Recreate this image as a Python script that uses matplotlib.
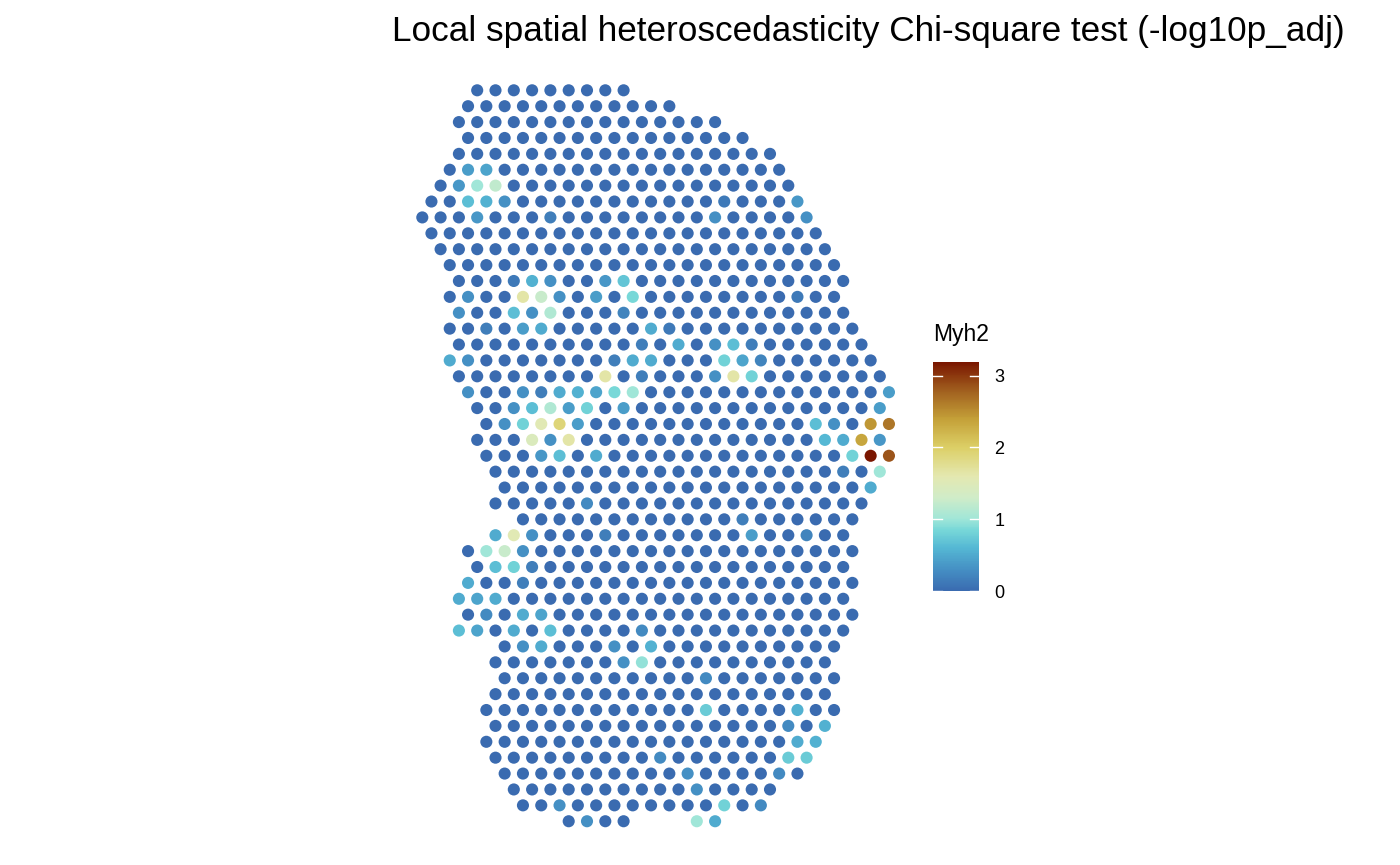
import numpy as np
import matplotlib
matplotlib.use("Agg")
from matplotlib import pyplot as plt
from matplotlib.colors import LinearSegmentedColormap, Normalize

plt.rcParams['font.family'] = ['Liberation Sans', 'DejaVu Sans']

# spot layout (array row, first and last array col of each row; cols step by 2)
row_start = [6, 5, 4, 5, 4, 3, 2, 1, 0, 1, 2, 3, 4, 3, 4, 3, 4, 3, 4, 5, 6, 7, 6, 7,
             8, 9, 8, 11, 8, 5, 6, 5, 4, 5, 4, 9, 8, 9, 8, 7, 8, 7, 8, 9, 10, 11, 16]
row_end = [22, 27, 32, 35, 38, 39, 40, 41, 42, 43, 44, 45, 46, 45, 46, 47, 48, 49, 50, 51,
           50, 51, 50, 51, 50, 49, 48, 47, 46, 47, 46, 47, 46, 47, 46, 45, 44, 45, 44, 45,
           44, 43, 42, 41, 38, 37, 32]
# spots missing inside a row
missing = [(46, 24), (46, 26), (46, 28)]

# spots with -log10p_adj above ~0 (row, col, value), everything else is ~0
hi_row = [5, 5, 6, 6, 6, 7, 7, 7, 7, 7, 8, 8, 8, 8,
          12, 12, 12, 12, 12, 13, 13, 13, 13, 13, 13, 13,
          14, 14, 14, 14, 14, 15, 15, 15, 15, 15, 16, 16, 16, 16, 16,
          17, 17, 17, 17, 17, 17, 17, 17, 18, 18, 18, 18, 18,
          19, 19, 19, 19, 19, 19, 19, 19, 19, 20, 20, 20, 20, 20, 20, 20,
          21, 21, 21, 21, 21, 21, 21, 21, 21, 22, 22, 22, 22, 22, 22, 22,
          23, 23, 23, 23, 23, 23, 24, 24, 25, 26, 27,
          28, 28, 28, 28, 28, 28, 29, 29, 29, 30, 30, 30, 31, 31, 32, 32, 32,
          33, 33, 33, 34, 34, 34, 34, 34, 35, 35, 35, 35, 36, 36, 37,
          39, 39, 40, 40, 41, 41, 42, 42, 42, 43, 43, 44, 45, 45, 45, 46, 46, 46]
hi_col = [5, 7, 4, 6, 8, 5, 7, 9, 33, 41, 6, 14, 32, 42,
          10, 12, 14, 20, 22, 5, 11, 13, 15, 19, 23, 41,
          4, 10, 12, 14, 22, 7, 11, 13, 25, 27, 24, 28, 32, 34, 36,
          3, 5, 21, 23, 25, 33, 35, 37, 20, 24, 32, 34, 36,
          5, 11, 13, 15, 17, 19, 21, 23, 51, 10, 12, 14, 16, 18, 22, 50,
          9, 11, 13, 15, 17, 43, 45, 49, 51, 12, 14, 16, 44, 46, 48, 50,
          13, 15, 19, 47, 49, 51, 46, 50, 49, 18, 35,
          8, 10, 12, 20, 36, 42, 7, 9, 11, 8, 10, 12, 5, 11, 4, 6, 8,
          7, 11, 13, 4, 6, 10, 14, 24, 11, 13, 21, 25, 22, 24, 31,
          31, 41, 40, 44, 41, 43, 26, 40, 42, 29, 39, 30, 15, 33, 37, 18, 30, 32]
hi_val = [0.4, 0.45, 0.35, 1.0, 1.2, 0.65, 0.55, 0.3, 0.12, 0.35, 0.35, 0.15, 0.3, 0.3,
          0.12, 0.55, 0.3, 0.35, 0.7, 0.3, 1.65, 1.25, 0.3, 0.4, 0.85, 0.12,
          0.3, 0.65, 0.3, 1.1, 0.2, 0.15, 0.4, 0.5, 0.5, 0.12, 0.15, 0.5, 0.3, 0.65, 0.15,
          0.5, 0.3, 0.15, 0.5, 0.5, 0.8, 0.45, 0.2, 1.65, 0.15, 0.3, 1.65, 0.8,
          0.3, 0.3, 0.15, 0.5, 0.55, 0.45, 0.85, 1.0, 0.4, 0.3, 0.65, 1.1, 0.4, 0.8, 0.4, 0.4,
          0.3, 0.8, 1.55, 1.9, 0.4, 0.65, 0.3, 2.45, 2.65, 1.45, 0.3, 1.65, 0.6, 0.5, 2.35, 0.35,
          0.35, 0.65, 0.5, 0.8, 3.19, 2.85, 0.15, 1.0, 0.5, 0.25, 0.15,
          0.5, 1.55, 0.3, 0.15, 0.4, 0.2, 1.0, 1.25, 0.3, 0.65, 0.8, 0.15, 0.5, 0.15, 0.5, 0.45, 0.5,
          0.25, 0.5, 0.45, 0.65, 0.45, 0.5, 0.65, 0.25, 0.3, 0.5, 0.3, 0.55, 0.3, 0.95, 0.25,
          0.75, 0.55, 0.25, 0.55, 0.5, 0.55, 0.25, 0.75, 0.75, 0.3, 0.25, 0.3, 0.3, 0.8, 0.25, 0.3, 1.0, 0.5]

# colour scale
cmap_pos = [0.0, 0.3, 0.6, 0.85, 1.0, 1.3, 1.6, 2.0, 2.4, 2.8, 3.19]
cmap_col = ['#3a6bb0', '#4590c4', '#55b8d4', '#78d8d8', '#a0e6d8', '#d0ecc8',
            '#e4e8b0', '#dccf66', '#c4a038', '#a05e1e', '#7a1600']
vmax = 3.19

# build spot table
rows, cols = [], []
for r in range(len(row_start)):
    for c in range(row_start[r], row_end[r] + 1, 2):
        if (r, c) not in missing:
            rows.append(r)
            cols.append(c)
rows = np.array(rows)
cols = np.array(cols)
vals = np.zeros(len(rows))
lookup = {(r, c): i for i, (r, c) in enumerate(zip(rows, cols))}
for r, c, v in zip(hi_row, hi_col, hi_val):
    vals[lookup[(r, c)]] = v

cmap = LinearSegmentedColormap.from_list('myh2', list(zip(np.array(cmap_pos) / vmax, cmap_col)))
norm = Normalize(0, vmax)

W, H = 1400, 865
fig = plt.figure(figsize=(14, 8.65), dpi=100)

# main panel, placed so one col step = 9.15 px and one row = 15.89 px
ax = fig.add_axes([410 / W, 1 - 832 / H, 490 / W, 752 / H])
order = np.argsort(vals)
sc = ax.scatter(cols[order], rows[order], c=vals[order], cmap=cmap, norm=norm,
                s=76, linewidths=0)
ax.set_xlim((410 - 422.3) / 9.15, (900 - 422.3) / 9.15)
ax.set_ylim((832 - 90.3) / 15.89, (80 - 90.3) / 15.89)
ax.axis('off')

fig.text(868.5 / W, 1 - 32 / H, 'Local spatial heteroscedasticity Chi-square test (-log10p_adj)',
         ha='center', va='center', fontsize=25.3)

# colour bar legend
cax = fig.add_axes([933 / W, 1 - 591 / H, 46 / W, 229 / H])
cb = fig.colorbar(sc, cax=cax)
cb.outline.set_visible(False)
cb.set_ticks([0, 1, 2, 3])
cax.tick_params(length=0, labelsize=13, pad=11)
for t in [0, 1, 2, 3]:
    cax.plot([0, 0.2], [t, t], color='white', lw=1, transform=cax.get_yaxis_transform())
    cax.plot([0.8, 1], [t, t], color='white', lw=1, transform=cax.get_yaxis_transform())
fig.text(933 / W, 1 - 335 / H, 'Myh2', ha='left', va='center', fontsize=16.5)

fig.savefig('out.png', dpi=100, facecolor='white')
